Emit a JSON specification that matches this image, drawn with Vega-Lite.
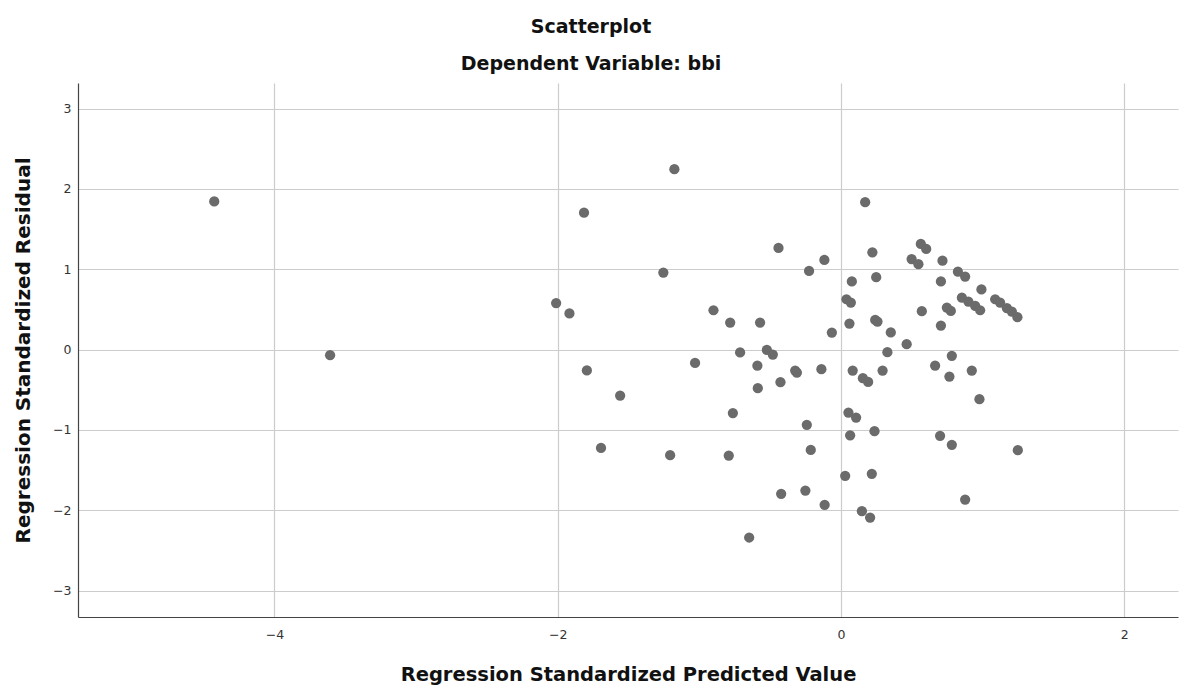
{
  "$schema": "https://vega.github.io/schema/vega-lite/v6.json",
  "autosize": "none",
  "width": 1100,
  "height": 534,
  "padding": {"left": 78, "top": 83, "right": 2, "bottom": 69},
  "background": "white",
  "title": {
    "text": "Scatterplot",
    "subtitle": "Dependent Variable: bbi",
    "anchor": "middle",
    "dx": -37,
    "offset": 9,
    "font": "DejaVu Sans",
    "fontSize": 19,
    "fontWeight": "bold",
    "color": "#111111",
    "subtitleFont": "DejaVu Sans",
    "subtitleFontSize": 19,
    "subtitleFontWeight": "bold",
    "subtitleColor": "#111111",
    "subtitlePadding": 18
  },
  "config": {
    "view": {"stroke": null},
    "axis": {
      "gridColor": "#cccccc",
      "gridWidth": 1.2,
      "domainColor": "#444444",
      "domainWidth": 1.2,
      "ticks": false,
      "labelFont": "DejaVu Sans",
      "labelFontSize": 12.5,
      "labelColor": "#333333",
      "titleFont": "DejaVu Sans",
      "titleFontWeight": "bold",
      "titleColor": "#111111"
    }
  },
  "data": {
    "values": [
      {"pred": -4.425, "resid": 1.845},
      {"pred": -3.607, "resid": -0.07},
      {"pred": -2.011, "resid": 0.58},
      {"pred": -1.917, "resid": 0.45},
      {"pred": -1.814, "resid": 1.705},
      {"pred": -1.794, "resid": -0.26},
      {"pred": -1.694, "resid": -1.224},
      {"pred": -1.559, "resid": -0.573},
      {"pred": -1.254, "resid": 0.959},
      {"pred": -1.206, "resid": -1.315},
      {"pred": -1.176, "resid": 2.246},
      {"pred": -1.03, "resid": -0.166},
      {"pred": -0.9, "resid": 0.49},
      {"pred": -0.782, "resid": 0.336},
      {"pred": -0.792, "resid": -1.32},
      {"pred": -0.763, "resid": -0.79},
      {"pred": -0.712, "resid": -0.035},
      {"pred": -0.648, "resid": -2.34},
      {"pred": -0.59, "resid": -0.2},
      {"pred": -0.587, "resid": -0.48},
      {"pred": -0.571, "resid": 0.336},
      {"pred": -0.523, "resid": -0.004},
      {"pred": -0.481, "resid": -0.062},
      {"pred": -0.441, "resid": 1.266},
      {"pred": -0.427, "resid": -0.406},
      {"pred": -0.422, "resid": -1.796},
      {"pred": -0.323, "resid": -0.261},
      {"pred": -0.311, "resid": -0.286},
      {"pred": -0.251, "resid": -1.755},
      {"pred": -0.241, "resid": -0.937},
      {"pred": -0.225, "resid": 0.98},
      {"pred": -0.213, "resid": -1.249},
      {"pred": -0.138, "resid": -0.244},
      {"pred": -0.117, "resid": 1.117},
      {"pred": -0.115, "resid": -1.933},
      {"pred": -0.064, "resid": 0.212},
      {"pred": 0.03, "resid": -1.572},
      {"pred": 0.039, "resid": 0.627},
      {"pred": 0.053, "resid": -0.784},
      {"pred": 0.06, "resid": 0.324},
      {"pred": 0.065, "resid": -1.068},
      {"pred": 0.07, "resid": 0.585},
      {"pred": 0.077, "resid": 0.849},
      {"pred": 0.083, "resid": -0.261},
      {"pred": 0.107, "resid": -0.846},
      {"pred": 0.148, "resid": -2.012},
      {"pred": 0.155, "resid": -0.356},
      {"pred": 0.171, "resid": 1.835},
      {"pred": 0.192, "resid": -0.402},
      {"pred": 0.206, "resid": -2.091},
      {"pred": 0.218, "resid": -1.547},
      {"pred": 0.222, "resid": 1.212},
      {"pred": 0.237, "resid": -1.016},
      {"pred": 0.242, "resid": 0.37},
      {"pred": 0.258, "resid": 0.349},
      {"pred": 0.249, "resid": 0.901},
      {"pred": 0.294, "resid": -0.261},
      {"pred": 0.328, "resid": -0.032},
      {"pred": 0.352, "resid": 0.214},
      {"pred": 0.464, "resid": 0.067},
      {"pred": 0.499, "resid": 1.127},
      {"pred": 0.547, "resid": 1.064},
      {"pred": 0.564, "resid": 1.316},
      {"pred": 0.602, "resid": 1.254},
      {"pred": 0.571, "resid": 0.479},
      {"pred": 0.665, "resid": -0.199},
      {"pred": 0.706, "resid": 0.299},
      {"pred": 0.706, "resid": 0.849},
      {"pred": 0.717, "resid": 1.108},
      {"pred": 0.7, "resid": -1.074},
      {"pred": 0.748, "resid": 0.523},
      {"pred": 0.776, "resid": 0.482},
      {"pred": 0.766, "resid": -0.336},
      {"pred": 0.783, "resid": -0.078},
      {"pred": 0.783, "resid": -1.186},
      {"pred": 0.826, "resid": 0.971},
      {"pred": 0.877, "resid": 0.909},
      {"pred": 0.854, "resid": 0.647},
      {"pred": 0.9, "resid": 0.598},
      {"pred": 0.948, "resid": 0.544},
      {"pred": 0.983, "resid": 0.49},
      {"pred": 0.877, "resid": -1.867},
      {"pred": 0.924, "resid": -0.261},
      {"pred": 0.978, "resid": -0.617},
      {"pred": 0.992, "resid": 0.749},
      {"pred": 1.089, "resid": 0.627},
      {"pred": 1.124, "resid": 0.585},
      {"pred": 1.172, "resid": 0.515},
      {"pred": 1.207, "resid": 0.473},
      {"pred": 1.246, "resid": 0.403},
      {"pred": 1.249, "resid": -1.252}
    ]
  },
  "mark": {"type": "point", "filled": true, "opacity": 1, "color": "#6b6b6b", "size": 105},
  "encoding": {
    "x": {
      "field": "pred",
      "type": "quantitative",
      "scale": {"domain": [-5.387, 2.38], "nice": false, "zero": false},
      "axis": {
        "title": "Regression Standardized Predicted Value",
        "values": [-4, -2, 0, 2],
        "labelPadding": 11,
        "titleFontSize": 19.5,
        "titlePadding": 25
      }
    },
    "y": {
      "field": "resid",
      "type": "quantitative",
      "scale": {"domain": [-3.33, 3.32], "nice": false, "zero": false},
      "axis": {
        "title": "Regression Standardized Residual",
        "values": [-3, -2, -1, 0, 1, 2, 3],
        "labelPadding": 7,
        "titleFontSize": 20,
        "titlePadding": 19
      }
    }
  }
}
